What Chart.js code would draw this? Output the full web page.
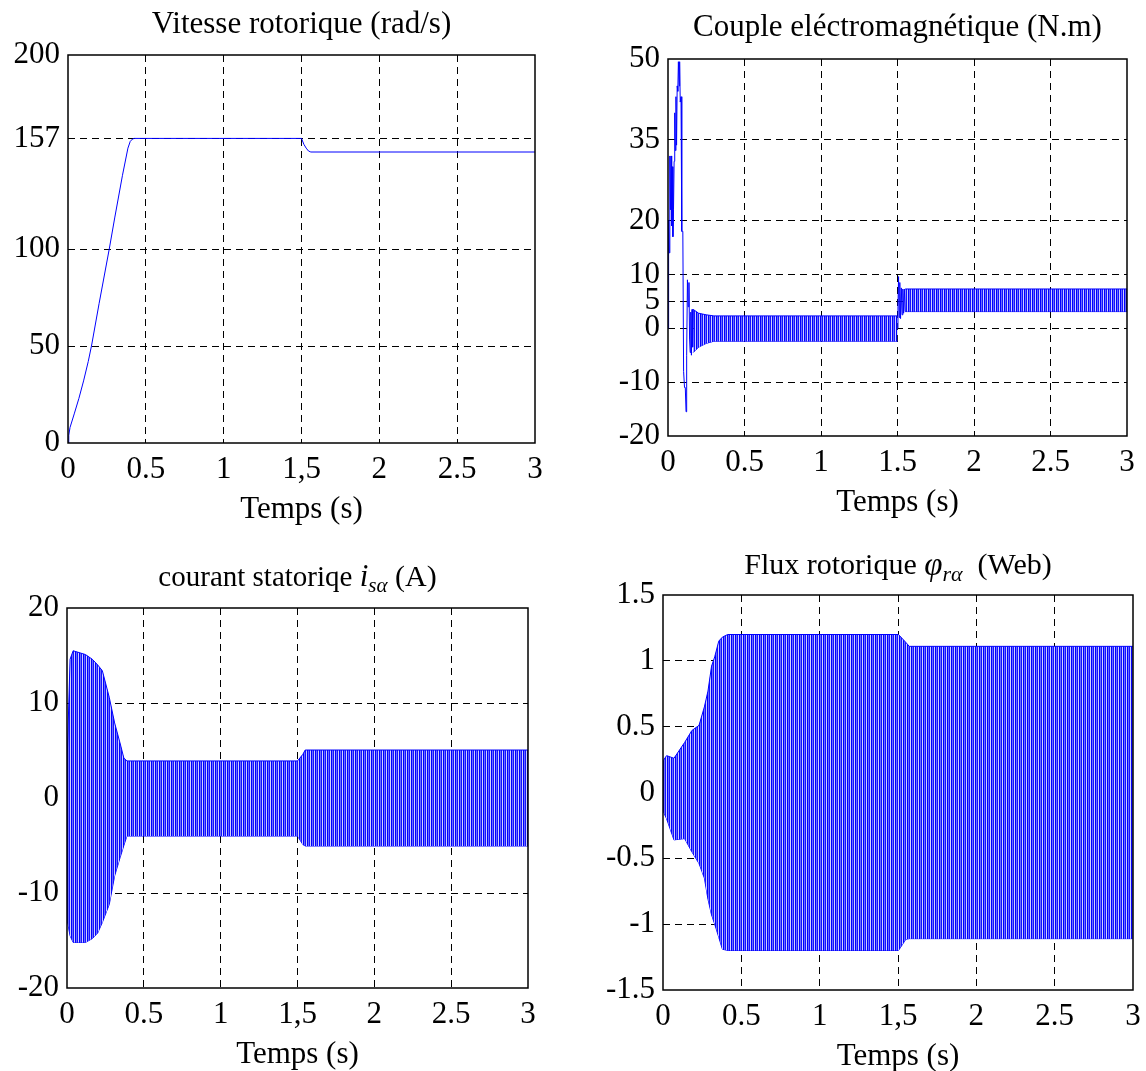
<!DOCTYPE html>
<html lang="fr">
<head>
<meta charset="UTF-8" />
<title>Vitesse, couple, courant et flux</title>
<script src="https://cdn.jsdelivr.net/npm/chart.js@4.4.0/dist/chart.umd.min.js"></script>
<style>
  body { margin: 0; background: #fff; }
  #page { position: relative; width: 1146px; height: 1071px; overflow: hidden; }
  canvas { position: absolute; }
</style>
</head>
<body>
<div id="page">
  <canvas id="cSpeed"></canvas>
  <canvas id="cTorque"></canvas>
  <canvas id="cCurrent"></canvas>
  <canvas id="cFlux"></canvas>
</div>
<script>
// ---- axes ----
const xTicks = [0, 0.5, 1, 1.5, 2, 2.5, 3];
const xLabelsComma = ["0", "0.5", "1", "1,5", "2", "2.5", "3"];
const xLabelsDot = ["0", "0.5", "1", "1.5", "2", "2.5", "3"];

// ---- vitesse rotorique (rad/s) ----
const speedT = [0, 0.005, 0.013, 0.04, 0.07, 0.1, 0.13, 0.152, 0.2, 0.265, 0.3, 0.35, 0.385, 0.4, 0.415, 0.425, 1.49, 1.5, 1.515, 1.53, 1.545, 1.56, 3];
const speedV = [0, 4, 8, 15, 23, 32, 42, 50.5, 72, 100, 116, 138, 152, 155.5, 156.7, 157, 157, 157, 154, 152, 150.5, 150, 150];
const speedTicks = [0, 50, 100, 157, 200];

// ---- couple electromagnetique (N.m) ----
// transitoire de demarrage
const torqueT = [0, 0.004, 0.008, 0.012, 0.016, 0.02, 0.024, 0.028, 0.032, 0.036, 0.04, 0.044, 0.048, 0.052, 0.056, 0.06, 0.064, 0.068, 0.072, 0.076, 0.08, 0.085, 0.09, 0.097, 0.102, 0.108, 0.113, 0.118, 0.122, 0.127, 0.132, 0.137, 0.141, 0.145, 0.149, 0.153, 0.157, 0.161, 0.165];
const torqueV = [0, 20, 14, 32, 22, 32, 19, 30, 17, 22, 31, 40, 33, 43, 34, 45, 44, 49.5, 45, 49.5, 42, 43, 18, 18, -8, -11, -11, -15.5, -5, 9, 4, 8.5, -2, -4.5, 3, -5, 3.5, -3.5, 3.5];
// bande d'oscillation en regime etabli
const torqueBandT = [0.165, 0.2, 0.25, 0.3, 1.5];
const torqueBandHi = [3.5, 2.8, 2.5, 2.3, 2.3];
const torqueBandLo = [-4.5, -3.5, -2.8, -2.4, -2.4];
// application de la charge a 1.5 s
const torqueStepT = [1.5, 1.503, 1.507, 1.511, 1.515, 1.52, 1.525, 1.53, 1.535, 1.54, 1.545, 1.55];
const torqueStepV = [0, 4, 9.6, 2, 8.5, 1.8, 7.5, 2.5, 7.3, 2.8, 7.3, 3.1];
const torqueLoadT = [1.55, 3];
const torqueLoadHi = [7.3, 7.3];
const torqueLoadLo = [3.1, 3.1];
const torqueTicks = [-20, -10, 0, 5, 10, 20, 35, 50];

// ---- courant statorique i_s alpha (A) : enveloppe ----
const currentT = [0, 0.02, 0.04, 0.12, 0.165, 0.2, 0.23, 0.275, 0.31, 0.345, 0.37, 0.39, 1.5, 1.535, 1.55, 3];
const currentHi = [3.5, 14.6, 15.5, 15.1, 14.6, 14, 13.4, 10.6, 7.9, 5.8, 4.2, 3.9, 3.9, 4.6, 5.05, 5.05];
const currentLo = [-12.8, -14.5, -15.2, -15.2, -14.8, -14.2, -13.1, -11.2, -8.2, -6.3, -5, -4, -4, -4.9, -5.05, -5.05];
const currentTicks = [-20, -10, 0, 10, 20];

// ---- flux rotorique phi_r alpha (Web) : enveloppe ----
const fluxT = [0, 0.023, 0.07, 0.138, 0.184, 0.23, 0.264, 0.287, 0.31, 0.33, 0.356, 0.379, 0.413, 1.503, 1.55, 1.572, 3];
const fluxHi = [0.24, 0.28, 0.26, 0.38, 0.47, 0.51, 0.65, 0.77, 0.96, 1.03, 1.15, 1.18, 1.2, 1.2, 1.14, 1.11, 1.11];
const fluxLo = [-0.14, -0.2, -0.36, -0.35, -0.45, -0.54, -0.65, -0.81, -0.93, -1.0, -1.1, -1.19, -1.2, -1.2, -1.115, -1.11, -1.11];
const fluxTicks = [-1.5, -1, -0.5, 0, 0.5, 1, 1.5];

const FONT = "'Liberation Serif', 'Times New Roman', serif";
const BLUE = "#0000ff";

function pts(t, v) {
  return t.map((x, i) => ({ x: x, y: v[i] }));
}

// hachures verticales pour les zones a oscillation rapide
function stripes(ctx) {
  const c = document.createElement("canvas");
  c.width = 4;
  c.height = 1;
  const g = c.getContext("2d");
  ["#0000ff", "#6a6aff", "#1414ff", "#cfcfff"].forEach((col, i) => {
    g.fillStyle = col;
    g.fillRect(i, 0, 1, 1);
  });
  return ctx.createPattern(c, "repeat");
}

function lineSet(data) {
  return { data: data, borderColor: BLUE, borderWidth: 1, pointRadius: 0, fill: false, tension: 0 };
}
function bandSets(t, hi, lo, pattern) {
  return [
    { data: pts(t, hi), borderColor: BLUE, borderWidth: 1, pointRadius: 0, tension: 0, fill: "+1", backgroundColor: pattern },
    { data: pts(t, lo), borderColor: BLUE, borderWidth: 1, pointRadius: 0, tension: 0, fill: false },
  ];
}

// cadre + titre (avec indices)
const framePlugin = {
  id: "frame",
  afterDraw(chart, args, opts) {
    const { ctx, chartArea: a } = chart;
    ctx.save();
    ctx.strokeStyle = "#000";
    ctx.lineWidth = 1.5;
    ctx.strokeRect(a.left, a.top, a.right - a.left, a.bottom - a.top);
    // titre
    const runs = opts.runs || [];
    let w = 0;
    runs.forEach((r) => {
      ctx.font = r.font;
      w += ctx.measureText(r.text).width;
    });
    let x = (a.left + a.right) / 2 - w / 2;
    const y = a.top - opts.gap;
    ctx.fillStyle = "#000";
    ctx.textBaseline = "middle";
    ctx.textAlign = "left";
    runs.forEach((r) => {
      ctx.font = r.font;
      ctx.fillText(r.text, x, y + (r.dy || 0));
      x += ctx.measureText(r.text).width;
    });
    ctx.restore();
  },
};

const PAD_L = 80, PAD_T = 60, PAD_R = 20, PAD_B = 95;

function makeChart(id, area, yMin, yMax, yTicks, xLabels, datasets, titleRuns, titleGap) {
  const cv = document.getElementById(id);
  cv.style.left = area.l - PAD_L + "px";
  cv.style.top = area.t - PAD_T + "px";
  cv.width = area.r - area.l + PAD_L + PAD_R;
  cv.height = area.b - area.t + PAD_T + PAD_B;
  const ds = typeof datasets === "function" ? datasets(cv.getContext("2d")) : datasets;
  return new Chart(cv, {
    type: "line",
    data: { datasets: ds },
    options: {
      responsive: false,
      animation: false,
      layout: { padding: { left: 0, top: PAD_T, right: PAD_R, bottom: 0 } },
      plugins: {
        legend: { display: false },
        tooltip: { enabled: false },
        frame: { runs: titleRuns, gap: titleGap },
      },
      scales: {
        x: {
          type: "linear",
          min: 0,
          max: 3,
          afterFit: (s) => { s.height = PAD_B; },
          afterBuildTicks: (s) => { s.ticks = xTicks.map((v) => ({ value: v })); },
          ticks: {
            autoSkip: false,
            maxRotation: 0,
            padding: 8,
            color: "#000",
            font: { family: FONT, size: 31 },
            callback: (v) => xLabels[xTicks.indexOf(v)],
          },
          grid: {
            drawTicks: false,
            lineWidth: 1,
            color: (c) => (c.tick && (c.tick.value === 0 || c.tick.value === 3) ? "rgba(0,0,0,0)" : "#000"),
          },
          border: { display: false, dash: [7, 5] },
          title: { display: true, text: "Temps (s)", color: "#000", font: { family: FONT, size: 31 }, padding: { top: 0, bottom: 10 } },
        },
        y: {
          type: "linear",
          min: yMin,
          max: yMax,
          afterFit: (s) => { s.width = PAD_L; },
          afterBuildTicks: (s) => { s.ticks = yTicks.map((v) => ({ value: v })); },
          ticks: {
            autoSkip: false,
            padding: 8,
            color: "#000",
            font: { family: FONT, size: 31 },
            callback: (v) => String(v),
          },
          grid: {
            drawTicks: false,
            lineWidth: 1,
            color: (c) => (c.tick && (c.tick.value === yMin || c.tick.value === yMax) ? "rgba(0,0,0,0)" : "#000"),
          },
          border: { display: false, dash: [7, 5] },
        },
      },
    },
    plugins: [framePlugin],
  });
}

const F = (style, size) => style + " " + size + "px " + FONT;

makeChart("cSpeed", { l: 68, t: 55, r: 535, b: 443 }, 0, 200, speedTicks, xLabelsComma,
  [lineSet(pts(speedT, speedV))],
  [{ text: "Vitesse rotorique (rad/s)", font: F("", 31) }], 30);

makeChart("cTorque", { l: 668, t: 59, r: 1127, b: 436 }, -20, 50, torqueTicks, xLabelsDot,
  (ctx) => {
    const p = stripes(ctx);
    return [
      lineSet(pts(torqueT, torqueV)),
      ...bandSets(torqueBandT, torqueBandHi, torqueBandLo, p),
      lineSet(pts(torqueStepT, torqueStepV)),
      ...bandSets(torqueLoadT, torqueLoadHi, torqueLoadLo, p),
    ];
  },
  [{ text: "Couple eléctromagnétique (N.m)", font: F("", 31) }], 31);

makeChart("cCurrent", { l: 67, t: 608, r: 528, b: 988 }, -20, 20, currentTicks, xLabelsComma,
  (ctx) => bandSets(currentT, currentHi, currentLo, stripes(ctx)),
  [
    { text: "courant statoriqe ", font: F("", 29) },
    { text: "i", font: F("italic", 31) },
    { text: "sα", font: F("italic", 21), dy: 8 },
    { text: " (A)", font: F("", 30) },
  ], 30);

makeChart("cFlux", { l: 663, t: 595, r: 1133, b: 990 }, -1.5, 1.5, fluxTicks, xLabelsComma,
  (ctx) => bandSets(fluxT, fluxHi, fluxLo, stripes(ctx)),
  [
    { text: "Flux rotorique ", font: F("", 30) },
    { text: "φ", font: F("italic", 33) },
    { text: "rα", font: F("italic", 22), dy: 9 },
    { text: "  (Web)", font: F("", 30) },
  ], 29);
</script>
</body>
</html>
